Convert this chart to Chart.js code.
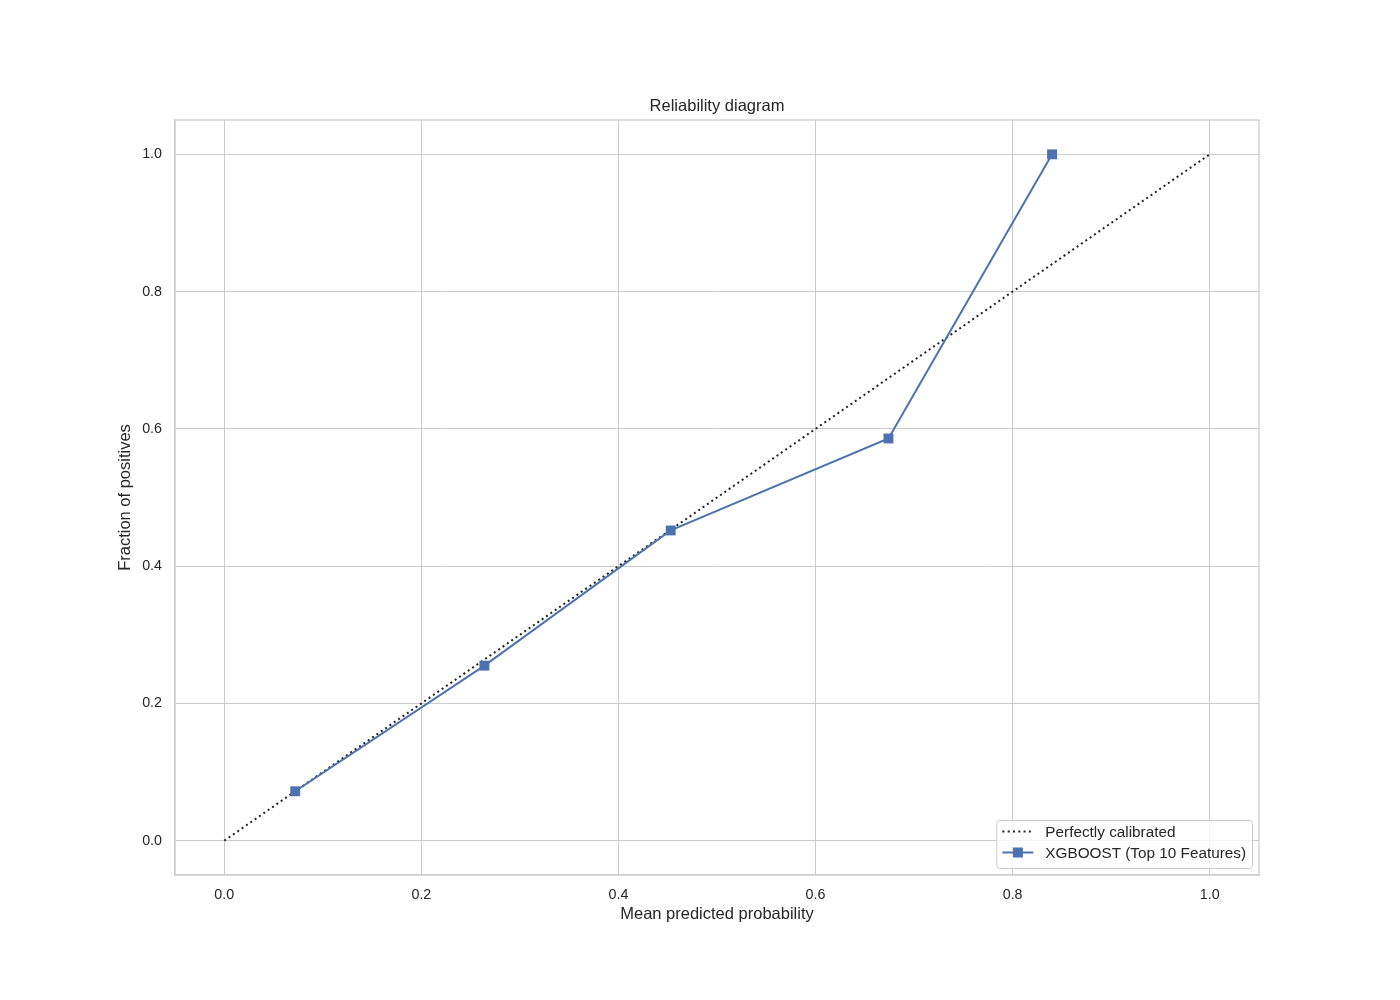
<!DOCTYPE html>
<html>
<head>
<meta charset="utf-8">
<title>Reliability diagram</title>
<script src="https://cdn.jsdelivr.net/npm/chart.js@4"></script>
<style>
  body { margin: 0; background: #ffffff; }
  #wrap { width: 1400px; height: 1000px; }
</style>
</head>
<body>
<div id="wrap"><canvas id="reliabilityChart" width="1400" height="1000"></canvas></div>
<script>
// Chart data
const meanPredicted = [0.072, 0.264, 0.453, 0.674, 0.840];
const fractionPositives = [0.072, 0.255, 0.452, 0.586, 1.0];
const diagonalX = [0, 1];
const diagonalY = [0, 1];
const tickValues = [0, 0.2, 0.4, 0.6, 0.8, 1.0];
const seriesLabels = ['Perfectly calibrated', 'XGBOOST (Top 10 Features)'];
const chartTitle = 'Reliability diagram';

const FONT = "'Liberation Sans', Arial, sans-serif";
const BLUE = '#4c72b0';
const GRID = '#cccccc';
const TEXT = '#262626';

function toPoints(xs, ys) {
  return xs.map((x, i) => ({ x: x, y: ys[i] }));
}

// Title centred over the plot area (matplotlib style)
const axesTitle = {
  id: 'axesTitle',
  afterDraw(chart) {
    const c = chart.ctx;
    const a = chart.chartArea;
    c.save();
    c.font = '16.5px ' + FONT;
    c.fillStyle = TEXT;
    c.textAlign = 'center';
    c.textBaseline = 'middle';
    c.fillText(chartTitle, (a.left + a.right) / 2, a.top - 14);
    c.restore();
  }
};

// Legend drawn inside the plot, bottom right (like loc="lower right")
const innerLegend = {
  id: 'innerLegend',
  afterDraw(chart) {
    const ctx = chart.ctx;
    const area = chart.chartArea;
    const sets = chart.data.datasets;
    ctx.save();
    ctx.font = '15.3px ' + FONT;
    let textW = 0;
    sets.forEach(ds => { textW = Math.max(textW, ctx.measureText(ds.label).width); });
    const rowH = 21;
    const boxW = 49 + textW + 6;
    const boxH = rowH * sets.length + 6;
    const x0 = area.right - 7 - boxW;
    const y0 = area.bottom - 7 - boxH;

    ctx.fillStyle = 'rgba(255,255,255,0.8)';
    ctx.strokeStyle = GRID;
    ctx.lineWidth = 1;
    ctx.beginPath();
    ctx.roundRect(x0 + 0.5, y0 + 0.5, boxW, boxH, 3);
    ctx.fill();
    ctx.stroke();

    sets.forEach((ds, i) => {
      const cy = y0 + 11.5 + i * rowH;
      ctx.strokeStyle = ds.borderColor;
      ctx.lineWidth = ds.borderWidth;
      ctx.setLineDash(ds.borderDash || []);
      ctx.beginPath();
      ctx.moveTo(x0 + 6, cy);
      ctx.lineTo(x0 + 37, cy);
      ctx.stroke();
      ctx.setLineDash([]);
      if (ds.pointRadius > 0) {
        ctx.fillStyle = ds.pointBackgroundColor;
        ctx.fillRect(x0 + 21.5 - 5, cy - 5, 10, 10);
      }
      ctx.fillStyle = TEXT;
      ctx.textAlign = 'left';
      ctx.textBaseline = 'middle';
      ctx.fillText(ds.label, x0 + 49, cy + 1);
    });
    ctx.restore();
  }
};

const ctx = document.getElementById('reliabilityChart').getContext('2d');

const chart = new Chart(ctx, {
  type: 'scatter',
  data: {
    datasets: [
      {
        label: seriesLabels[0],
        data: toPoints(diagonalX, diagonalY),
        showLine: true,
        borderColor: '#222222',
        borderWidth: 2,
        borderDash: [2, 3.3],
        pointRadius: 0,
        pointHoverRadius: 0,
        order: 1
      },
      {
        label: seriesLabels[1],
        data: toPoints(meanPredicted, fractionPositives),
        showLine: true,
        borderColor: BLUE,
        backgroundColor: BLUE,
        borderWidth: 2,
        pointStyle: 'rect',
        pointRadius: 7,
        pointBackgroundColor: BLUE,
        pointBorderColor: BLUE,
        pointBorderWidth: 0,
        order: 0
      }
    ]
  },
  options: {
    responsive: false,
    animation: false,
    layout: {
      padding: { top: 120, right: 141, bottom: 65, left: 113 }
    },
    plugins: {
      legend: { display: false },
      tooltip: { enabled: false },
      title: { display: false }
    },
    scales: {
      x: {
        type: 'linear',
        min: -0.05,
        max: 1.05,
        afterBuildTicks: axis => { axis.ticks = tickValues.map(v => ({ value: v })); },
        afterFit: axis => { axis.height = 60; },
        ticks: {
          color: TEXT,
          font: { family: FONT, size: 14.3 },
          padding: 11,
          maxRotation: 0,
          callback: v => Number(v).toFixed(1)
        },
        grid: { color: GRID, lineWidth: 1, drawTicks: false },
        border: { display: true, color: GRID, width: 1.25 },
        title: {
          display: true,
          text: 'Mean predicted probability',
          color: TEXT,
          font: { family: FONT, size: 16.5 },
          padding: { top: 4, bottom: 11 }
        }
      },
      y: {
        type: 'linear',
        min: -0.05,
        max: 1.05,
        afterBuildTicks: axis => { axis.ticks = tickValues.map(v => ({ value: v })); },
        afterFit: axis => { axis.width = 62; },
        ticks: {
          color: TEXT,
          font: { family: FONT, size: 14.3 },
          padding: 13,
          callback: v => Number(v).toFixed(1)
        },
        grid: { color: GRID, lineWidth: 1, drawTicks: false },
        border: { display: true, color: GRID, width: 1.25 },
        title: {
          display: true,
          text: 'Fraction of positives',
          color: TEXT,
          font: { family: FONT, size: 16.5 },
          padding: { top: 3, bottom: 4 }
        }
      }
    }
  },
  plugins: [
    axesTitle,
    innerLegend,
    {
      // right and top spines of the plot frame
      id: 'frame',
      beforeDatasetsDraw(chart) {
        const c = chart.ctx;
        const a = chart.chartArea;
        c.save();
        c.strokeStyle = GRID;
        c.lineWidth = 1.25;
        c.strokeRect(a.left, a.top, a.right - a.left, a.bottom - a.top);
        c.restore();
      }
    }
  ]
});
</script>
</body>
</html>
